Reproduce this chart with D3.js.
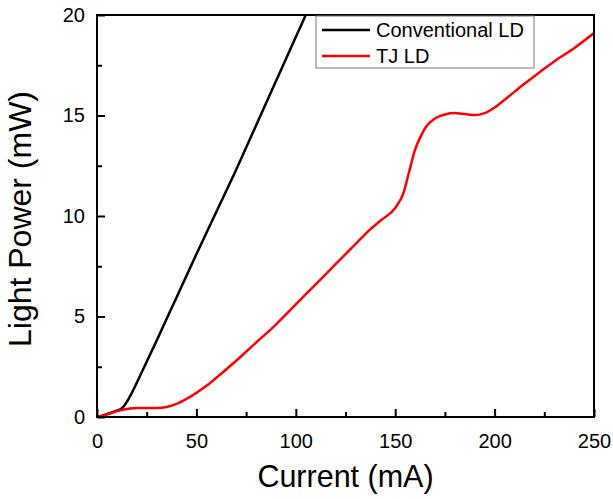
<!DOCTYPE html>
<html><head><meta charset="utf-8">
<script src="https://cdn.jsdelivr.net/npm/d3@7"></script>
<style>body{margin:0;background:#fff}svg{display:block}text{font-family:"Liberation Sans",Arial,sans-serif}</style>
</head><body><svg id="c" width="613" height="499"></svg>
<script>
const seriesNames = ["Conventional LD", "TJ LD"];
const seriesColors = ["#000000", "#ff0000"];
const conventionalLD = [[0,0],[3,0.08],[6,0.18],[9,0.28],[12,0.4],[14,0.6],[17,1.1],[20,1.7],[25,2.75],[30,3.8],[40,5.95],[50,8.1],[60,10.2],[70,12.3],[80,14.5],[90,16.7],[100,18.9],[105,20]];
const tjLD = [[0,0],[5,0.12],[10,0.3],[15,0.4],[20,0.45],[30,0.45],[35,0.5],[40,0.65],[45,0.9],[50,1.2],[55,1.55],[60,1.95],[70,2.8],[80,3.7],[90,4.6],[100,5.6],[110,6.6],[120,7.6],[130,8.6],[137,9.3],[143,9.8],[150,10.4],[154,11.1],[157,12.2],[160,13.3],[163,14.0],[166,14.5],[170,14.85],[175,15.05],[180,15.12],[185,15.07],[190,15.02],[195,15.12],[200,15.4],[206,15.86],[214,16.5],[223,17.18],[231,17.76],[240,18.35],[250,19.1]];
const xTicks = [0,50,100,150,200,250];
const xMinor = [25,75,125,175,225];
const yTicks = [0,5,10,15,20];
const yMinor = [2.5,7.5,12.5,17.5];
const xTitle = "Current (mA)";
const yTitle = "Light Power (mW)";

const svg = d3.select("#c");
const L = 97, T = 15, R = 594, B = 417;
const x = d3.scaleLinear().domain([0,250]).range([L,R]);
const y = d3.scaleLinear().domain([0,20]).range([B,T]);

svg.append("clipPath").attr("id","clip").append("rect").attr("x",L).attr("y",T).attr("width",R-L).attr("height",B-T);

const line = d3.line().x(d=>x(d[0])).y(d=>y(d[1])).curve(d3.curveMonotoneX);
[conventionalLD, tjLD].forEach((s,i)=>{
  svg.append("path").attr("d",line(s)).attr("fill","none").attr("stroke",seriesColors[i])
    .attr("stroke-width",2.5).attr("stroke-linejoin","round").attr("clip-path","url(#clip)");
});

// frame
svg.append("rect").attr("x",L).attr("y",T).attr("width",R-L).attr("height",B-T)
  .attr("fill","none").attr("stroke","#000").attr("stroke-width",2);

// x axis
const xAxis = d3.axisBottom(x).tickValues(xTicks).tickSize(-8).tickPadding(17).tickFormat(d3.format("d"));
const gx = svg.append("g").attr("transform",`translate(0,${B})`).call(xAxis);
gx.select(".domain").remove();
gx.selectAll("line").attr("stroke","#000").attr("stroke-width",2);
gx.selectAll("text").attr("font-size",20).attr("fill","#000");
const gxm = svg.append("g").attr("transform",`translate(0,${B})`).call(d3.axisBottom(x).tickValues(xMinor).tickSize(-5).tickFormat(""));
gxm.select(".domain").remove();
gxm.selectAll("line").attr("stroke","#000").attr("stroke-width",2);

// y axis
const yAxis = d3.axisLeft(y).tickValues(yTicks).tickSize(-8).tickPadding(12).tickFormat(d3.format("d"));
const gy = svg.append("g").attr("transform",`translate(${L},0)`).call(yAxis);
gy.select(".domain").remove();
gy.selectAll("line").attr("stroke","#000").attr("stroke-width",2);
gy.selectAll("text").attr("font-size",20).attr("fill","#000");
const gym = svg.append("g").attr("transform",`translate(${L},0)`).call(d3.axisLeft(y).tickValues(yMinor).tickSize(-5).tickFormat(""));
gym.select(".domain").remove();
gym.selectAll("line").attr("stroke","#000").attr("stroke-width",2);

// titles
svg.append("text").attr("x",(L+R)/2).attr("y",487).attr("text-anchor","middle").attr("font-size",30.5).attr("fill","#000").text(xTitle);
svg.append("text").attr("transform",`translate(31,219) rotate(-90)`).attr("text-anchor","middle").attr("font-size",32).attr("fill","#000").text(yTitle);

// legend
const lg = svg.append("g");
lg.append("rect").attr("x",316).attr("y",16).attr("width",218).attr("height",52).attr("fill","#fff").attr("stroke","#777").attr("stroke-width",1);
seriesNames.forEach((n,i)=>{
  const yy = 30 + i*26;
  lg.append("line").attr("x1",322).attr("x2",370).attr("y1",yy).attr("y2",yy).attr("stroke",seriesColors[i]).attr("stroke-width",2.5);
  lg.append("text").attr("x",376).attr("y",yy+7).attr("font-size",20).attr("fill","#000").text(n);
});
</script></body></html>
